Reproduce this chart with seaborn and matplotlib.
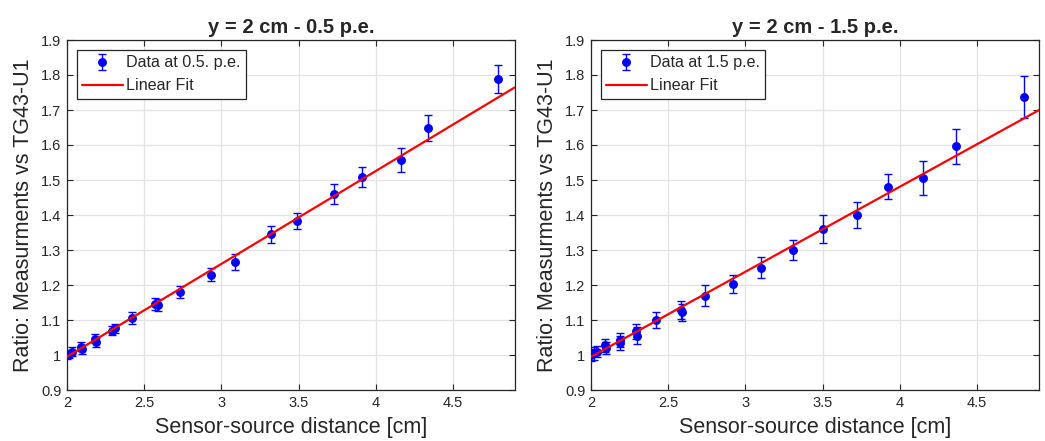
import numpy as np
import pandas as pd
import seaborn as sns
import matplotlib
matplotlib.use("Agg")
import matplotlib.pyplot as plt
from matplotlib.ticker import FuncFormatter

# ---- data ----
x_left = [2.00, 2.01, 2.03, 2.09, 2.10, 2.18, 2.19, 2.29, 2.31, 2.42, 2.57, 2.59,
          2.73, 2.93, 3.09, 3.32, 3.49, 3.73, 3.91, 4.16, 4.34, 4.79]
y_left = [1.000, 1.003, 1.010, 1.024, 1.016, 1.047, 1.036, 1.070, 1.077, 1.105, 1.146, 1.142,
          1.180, 1.230, 1.265, 1.345, 1.383, 1.460, 1.508, 1.558, 1.649, 1.789]
e_left = [0.012, 0.012, 0.012, 0.012, 0.013, 0.013, 0.012, 0.014, 0.013, 0.017, 0.017, 0.017,
          0.017, 0.018, 0.023, 0.025, 0.023, 0.029, 0.028, 0.034, 0.037, 0.041]
fit_left = [0.2655, 0.464]   # slope, intercept

x_right = [2.00, 2.02, 2.04, 2.09, 2.10, 2.19, 2.19, 2.29, 2.30, 2.42, 2.58, 2.59,
           2.74, 2.92, 3.10, 3.31, 3.50, 3.72, 3.92, 4.15, 4.36, 4.80]
y_right = [1.000, 1.005, 1.010, 1.028, 1.020, 1.042, 1.035, 1.068, 1.055, 1.100, 1.128, 1.122,
           1.170, 1.203, 1.250, 1.300, 1.360, 1.400, 1.481, 1.505, 1.596, 1.737]
e_right = [0.018, 0.018, 0.017, 0.018, 0.018, 0.020, 0.020, 0.022, 0.024, 0.024, 0.025, 0.025,
           0.031, 0.027, 0.029, 0.029, 0.040, 0.038, 0.036, 0.048, 0.049, 0.061]
fit_right = [0.243, 0.509]

titles = ["y = 2 cm - 0.5 p.e.", "y = 2 cm - 1.5 p.e."]
data_labels = ["Data at 0.5. p.e.", "Data at 1.5 p.e."]
xlabel = "Sensor-source distance [cm]"
ylabel = "Ratio: Measurments vs TG43-U1"
x_ticks = [2, 2.5, 3, 3.5, 4, 4.5]
y_ticks = [0.9, 1.0, 1.1, 1.2, 1.3, 1.4, 1.5, 1.6, 1.7, 1.8, 1.9]
x_range = [2.0, 4.9]
y_range = [0.9, 1.9]

sns.set_theme(style="ticks")
plt.rcParams['font.family'] = ['Liberation Sans', 'DejaVu Sans']
plt.rcParams['axes.edgecolor'] = '#262626'
plt.rcParams['xtick.color'] = '#262626'
plt.rcParams['ytick.color'] = '#262626'

fig = plt.figure(figsize=(10.45, 4.41), dpi=100)
W, H = 1045, 441
boxes = [(67, 515), (591, 1039)]
top_px, bot_px = 40, 390

panels = [(x_left, y_left, e_left, fit_left), (x_right, y_right, e_right, fit_right)]
for i, ((l, r), (xs, ys, es, fit)) in enumerate(zip(boxes, panels)):
    ax = fig.add_axes([l / W, 1 - bot_px / H, (r - l) / W, (bot_px - top_px) / H])
    ax.grid(True, color='#e3e3e3', linewidth=0.9)
    ax.set_axisbelow(True)
    eb = ax.errorbar(xs, ys, yerr=es, fmt='o', color='#0000ff', ecolor='#0000ff',
                     markersize=5.4, capsize=3.1, elinewidth=1.0, capthick=1.0,
                     label=data_labels[i], zorder=3)
    fx = np.array(x_range)
    fdf = pd.DataFrame({"x": fx, "y": fit[0] * fx + fit[1]})
    sns.lineplot(data=fdf, x="x", y="y", ax=ax, color='#ff0000', linewidth=1.6,
                 label="Linear Fit", zorder=4, legend=False)
    line = ax.get_lines()[-1]
    ax.set_xlim(*x_range)
    ax.set_ylim(*y_range)
    ax.set_xticks(x_ticks)
    ax.set_yticks(y_ticks)
    ax.xaxis.set_major_formatter(FuncFormatter(lambda v, p: f"{v:g}"))
    ax.yaxis.set_major_formatter(FuncFormatter(lambda v, p: f"{v:g}"))
    ax.tick_params(direction='in', length=4, width=0.8, top=True, right=True,
                   labelsize=10.5, pad=4)
    for s in ax.spines.values():
        s.set_linewidth(0.9)
        s.set_visible(True)
    ax.set_title(titles[i], fontsize=14.5, fontweight='bold', pad=5)
    ax.set_xlabel(xlabel, fontsize=15.5, color='#262626', labelpad=5)
    ax.set_ylabel(ylabel, fontsize=15.5, color='#262626', labelpad=5)
    leg = ax.legend([eb, line], [data_labels[i], "Linear Fit"],
                    loc='upper left', fontsize=11.6, frameon=True, fancybox=False,
                    framealpha=1, edgecolor='#262626', borderaxespad=0.6,
                    handlelength=2.5, borderpad=0.35, labelspacing=0.5, handletextpad=0.2)
    leg.get_frame().set_linewidth(0.9)

fig.savefig("out.png", dpi=100)
